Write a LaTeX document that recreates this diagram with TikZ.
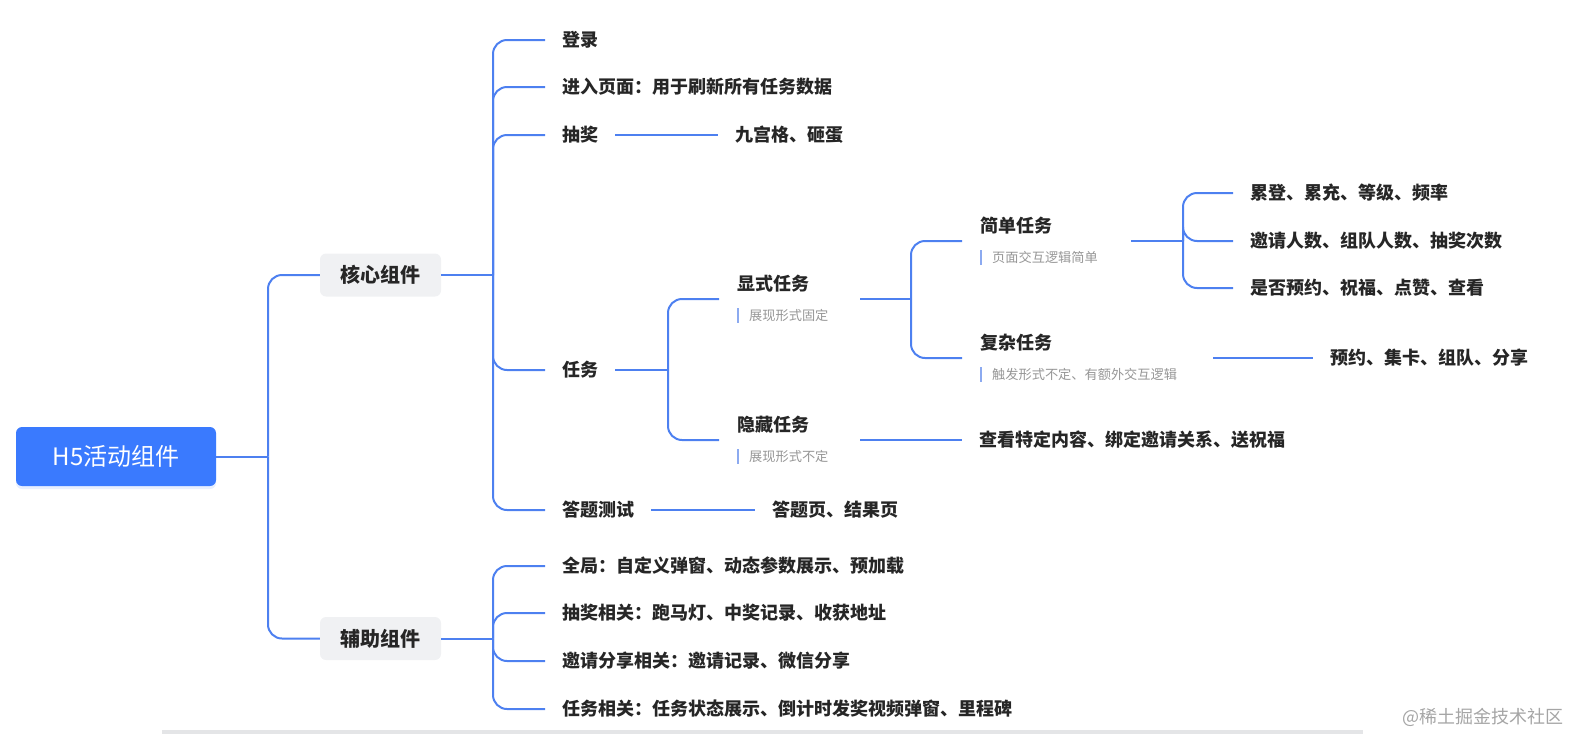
\documentclass[tikz,border=0pt]{standalone}
\usepackage{fontspec}
\setmainfont{Noto Sans CJK SC}
\usetikzlibrary{shadows}
\definecolor{lc}{RGB}{77,128,240}
\definecolor{rootc}{RGB}{58,122,254}
\definecolor{boxg}{RGB}{240,241,243}
\definecolor{tc}{RGB}{38,38,38}
\definecolor{sc}{RGB}{150,150,150}
\definecolor{barc}{RGB}{140,170,240}
\definecolor{bottomg}{RGB}{228,229,231}
\definecolor{wm}{RGB}{165,165,165}
\newcommand\subt[1]{{\fontsize{13.2}{16}\selectfont\mdseries\textcolor{barc}{\rule[-2.5pt]{2pt}{15pt}}\hspace{10pt}\textcolor{sc}{#1}}}
\begin{document}
\begin{tikzpicture}[x=1pt,y=-1pt,
  ln/.style={draw=lc, line width=2pt},
  rc/.style={ln, rounded corners=14pt},
  leaf/.style={anchor=west, inner xsep=17pt, inner ysep=2pt, text=tc, font=\fontsize{18}{20}\selectfont\bfseries},
  taskbox/.style={anchor=west, inner xsep=18pt, inner ysep=0pt, align=left, text=tc, font=\fontsize{18}{30}\selectfont\bfseries},
  catbox/.style={fill=boxg, rounded corners=6pt, minimum width=121pt, minimum height=43pt, inner sep=0pt, text=tc, font=\fontsize{20}{24}\selectfont\bfseries}
]
\useasboundingbox (0,0) rectangle (1569,734);
% root
\node[fill=rootc, rounded corners=6pt, minimum width=200pt, minimum height=59pt, inner sep=0pt, text=white,
  font=\fontsize{24}{28}\selectfont,
  drop shadow={opacity=0.12, fill=rootc, shadow xshift=0pt, shadow yshift=-3pt}] (root) at (116,456.5) {H5活动组件};
\node[catbox] (core) at (380.5,275) {核心组件};
\node[catbox] (aux) at (380.5,638.5) {辅助组件};
\coordinate (r1) at (268,456.5);
\draw[ln] (root.east) -- (r1);
\draw[rc] (r1) |- (core.west);
\draw[rc] (r1) |- (aux.west);

% core children
\node[leaf] (login) at (545,40) {登录};
\node[leaf] (enter) at (545,87) {进入页面：用于刷新所有任务数据};
\node[leaf] (lott) at (545,135) {抽奖};
\node[leaf] (task) at (545,370) {任务};
\node[leaf] (quiz) at (545,510) {答题测试};
\coordinate (c1) at (493,275);
\draw[ln] (core.east) -- (c1);
\foreach \n in {login,enter,lott,task,quiz} \draw[rc] (c1) |- (\n.west);

\node[leaf] (grid) at (718,135) {九宫格、砸蛋};
\draw[ln] (lott.east) -- (grid.west);
\node[leaf] (quizp) at (755,510) {答题页、结果页};
\draw[ln] (quiz.east) -- (quizp.west);

% task subtree
\node[taskbox, text width=105pt] (xs) at (719,299) {显式任务\\\subt{展现形式固定}};
\node[taskbox, text width=105pt] (yc) at (719,440) {隐藏任务\\\subt{展现形式不定}};
\coordinate (k1) at (668,370);
\draw[ln] (task.east) -- (k1);
\draw[rc] (k1) |- (xs.west);
\draw[rc] (k1) |- (yc.west);

\node[leaf] (see) at (962,440) {查看特定内容、绑定邀请关系、送祝福};
\draw[ln] (yc.east) -- (see.west);

\node[taskbox, text width=133pt] (jd) at (962,241) {简单任务\\\subt{页面交互逻辑简单}};
\node[taskbox, text width=215pt] (fz) at (962,358) {复杂任务\\\subt{触发形式不定、有额外交互逻辑}};
\coordinate (x1) at (911,299);
\draw[ln] (xs.east) -- (x1);
\draw[rc] (x1) |- (jd.west);
\draw[rc] (x1) |- (fz.west);

\node[leaf] (yy) at (1313,358) {预约、集卡、组队、分享};
\draw[ln] (fz.east) -- (yy.west);

\node[leaf] (s1) at (1233,193) {累登、累充、等级、频率};
\node[leaf] (s2) at (1233,241) {邀请人数、组队人数、抽奖次数};
\node[leaf] (s3) at (1233,288) {是否预约、祝福、点赞、查看};
\coordinate (j1) at (1183,241);
\draw[ln] (jd.east) -- (j1);
\foreach \n in {s1,s2,s3} \draw[rc] (j1) |- (\n.west);

% aux children
\node[leaf] (g1) at (545,566) {全局：自定义弹窗、动态参数展示、预加载};
\node[leaf] (g2) at (545,613) {抽奖相关：跑马灯、中奖记录、收获地址};
\node[leaf] (g3) at (545,661) {邀请分享相关：邀请记录、微信分享};
\node[leaf] (g4) at (545,709) {任务相关：任务状态展示、倒计时发奖视频弹窗、里程碑};
\coordinate (a1) at (493,638.5);
\draw[ln] (aux.east) -- (a1);
\foreach \n in {g1,g2,g3,g4} \draw[rc] (a1) |- (\n.west);

% bottom bar and watermark
\fill[bottomg] (162,729.5) rectangle (1363,734);
\node[text=wm, font=\fontsize{18}{20}\selectfont, anchor=east, inner sep=0pt] (wmk) at (1564,717) {@稀土掘金技术社区};
\end{tikzpicture}
\end{document}
